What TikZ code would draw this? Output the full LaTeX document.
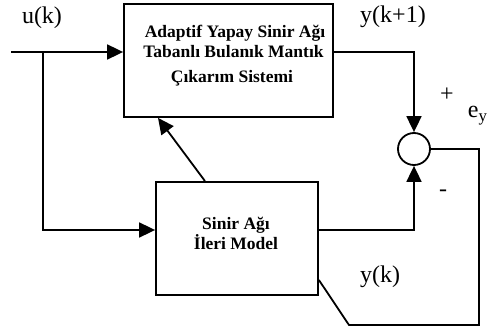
\documentclass[tikz,border=0pt]{standalone}
\usepackage{fontspec}
\setmainfont{Liberation Serif}
\usetikzlibrary{arrows.meta}
\begin{document}
\begin{tikzpicture}[x=1pt,y=-1pt,
  line width=1.8pt,
  >={Triangle[length=16pt,width=15pt]},
  blockbox/.style={draw, rectangle, inner sep=0pt, minimum height=113pt},
  sumnode/.style={draw, circle, inner sep=0pt, minimum size=32pt},
  intext/.style={font=\fontsize{17.5}{20}\selectfont\bfseries, inner sep=0pt, anchor=base},
  sig/.style={font=\fontsize{24}{28}\selectfont, inner sep=0pt, anchor=base}]
\useasboundingbox (0,0) rectangle (488,334);

% blocks and summing junction
\node[blockbox, minimum width=209pt] (anf) at (228.5,60.5) {};
\node[blockbox, minimum width=162pt] (fwd) at (237,238.5) {};
\node[sumnode] (sum) at (414,149) {};

% block texts
\node[intext] (t1) at (235,38) {Adaptif Yapay Sinir Ağı};
\node[intext] (t2) at (233.5,58) {Tabanlı Bulanık Mantık};
\node[intext] (t3) at (232,83) {Çıkarım Sistemi};
\node[intext] (f1) at (236,230) {Sinir Ağı};
\node[intext] (f2) at (236,250) {İleri Model};

% input and its branch
\coordinate (in) at (11,52);
\coordinate (br) at (43,52);
\draw[->] (in) -- (in -| anf.west);
\draw[->] (br) |- ([yshift=8.5pt]fwd.west);

% outputs into the summing junction
\draw[->] ([yshift=8.5pt]anf.east) -| (sum.north);
\draw[->] ([yshift=8.5pt]fwd.east) -| (sum.south);

% forward model feeding the adaptive system
\draw[->] ([xshift=-32pt]fwd.north) -- ([xshift=-70.5pt]anf.south);

% error feedback loop
\coordinate (c1) at (479,325);
\coordinate (c2) at (349,325);
\draw (sum.east) -| (c1) -- (c2) -- ([yshift=-41.5pt]fwd.east);

% signal labels
\node[sig] (lu) at (42,24) {u(k)};
\node[sig] (ly1) at (393,23) {y(k+1)};
\node[sig] (lyk) at (380,283) {y(k)};
\node[sig, anchor=center] (lplus) at (447,95) {+};
\node[sig, anchor=center] (lminus) at (443,193) {-};
\node[sig, anchor=base west] (le) at (467,118) {e\textsubscript{y}};
\end{tikzpicture}
\end{document}
